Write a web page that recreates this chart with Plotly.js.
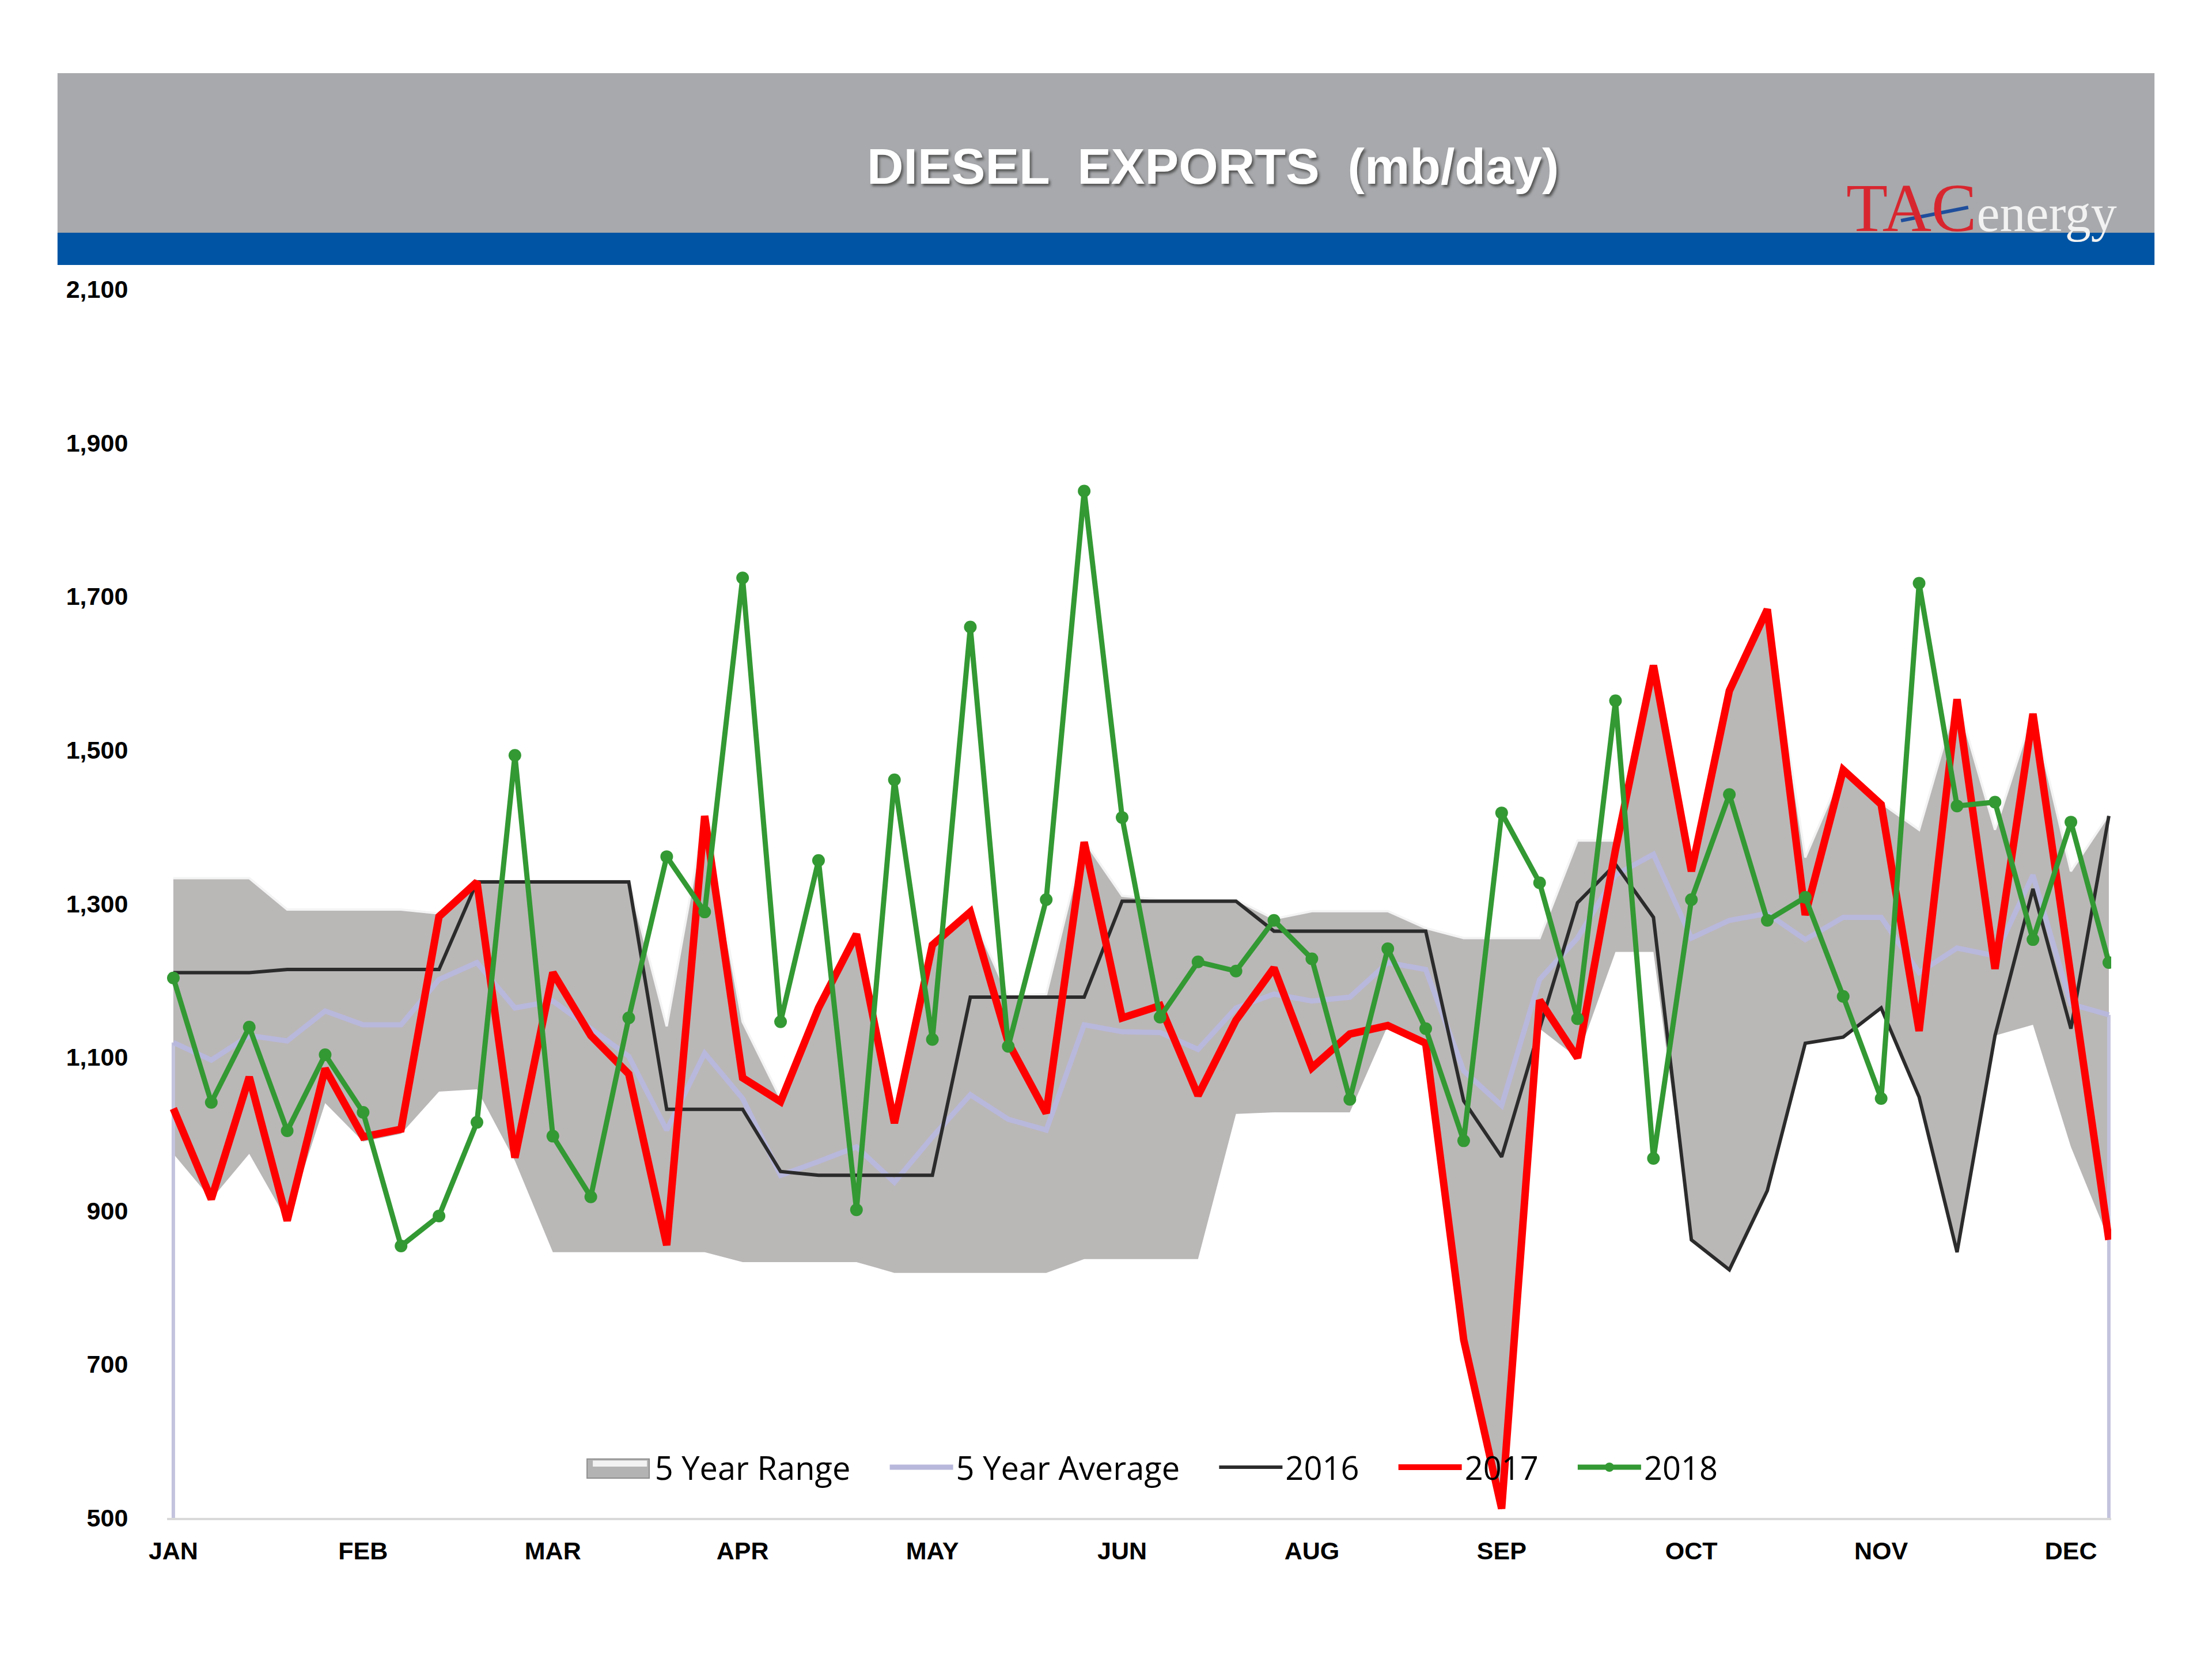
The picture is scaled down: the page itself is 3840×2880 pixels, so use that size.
<!DOCTYPE html>
<html>
<head>
<meta charset="utf-8">
<script src="https://cdn.plot.ly/plotly-3.0.1.min.js"></script>
<style>html,body{margin:0;padding:0;background:#fff;}#chart{width:3840px;height:2880px;}</style>
</head>
<body>
<div id="chart"></div>
<script>
// Week numbers (x categories)
const weeks = [1,2,3,4,5,6,7,8,9,10,11,12,13,14,15,16,17,18,19,20,21,22,23,24,25,26,
               27,28,29,30,31,32,33,34,35,36,37,38,39,40,41,42,43,44,45,46,47,48,49,50,51,52];
const monthTickWeeks = [1,6,11,16,21,26,31,36,41,46,51];
const monthLabels = ["JAN","FEB","MAR","APR","MAY","JUN","AUG","SEP","OCT","NOV","DEC"];
const yTickVals = [500,700,900,1100,1300,1500,1700,1900,2100];
const yTickLabels = ["500","700","900","1,100","1,300","1,500","1,700","1,900","2,100"];
const seriesNames = ["5 Year Range","5 Year Average","2016","2017","2018"];

const rangeLow = [974,915,974,887,1040,990,1000,1055,1058,965,
                  846,846,846,846,846,833,833,833,833,819,
                  819,819,819,819,837,837,837,837,1026,1028,
                  1028,1028,1141,1118,730,510,1137,1099,1237,1237,
                  862,823,926,1118,1126,1164,1048,846,1128,1142,
                  983,862];
const rangeHigh = [1333,1333,1333,1292,1292,1292,1292,1287,1330,1330,
                   1330,1330,1330,1140,1414,1146,1046,1166,1262,1020,
                   1248,1291,1180,1182,1382,1310,1305,1305,1305,1280,
                   1290,1290,1290,1268,1255,1255,1255,1382,1382,1612,
                   1346,1579,1685,1360,1475,1431,1396,1566,1396,1549,
                   1342,1416];
const avg5 = [1119,1096,1128,1121,1160,1142,1142,1201,1223,1164,
              1173,1137,1101,1005,1105,1046,946,964,983,937,
              996,1051,1019,1005,1142,1133,1132,1110,1164,1182,
              1173,1178,1223,1214,1082,1037,1201,1255,1337,1364,
              1255,1278,1287,1253,1282,1282,1210,1242,1232,1337,
              1169,1155];
const y2016 = [1210,1210,1210,1214,1214,1214,1214,1214,1328,1328,
               1328,1328,1328,1032,1032,1032,951,946,946,946,
               946,1178,1178,1178,1178,1303,1303,1303,1303,1264,
               1264,1264,1264,1264,1043,970,1137,1301,1351,1282,
               862,823,926,1118,1126,1164,1048,846,1128,1319,
               1137,1414];
const y2017 = [1033,915,1074,887,1085,996,1006,1283,1328,969,
               1210,1128,1078,855,1414,1073,1042,1164,1260,1014,
               1246,1289,1119,1027,1380,1151,1167,1050,1148,1216,
               1086,1130,1141,1118,732,512,1174,1099,1370,1610,
               1342,1577,1683,1285,1474,1429,1134,1566,1215,1547,
               1205,862];
const y2018 = [1203,1041,1139,1004,1103,1028,854,893,1015,1493,
               997,918,1151,1361,1289,1724,1146,1356,901,1461,
               1123,1660,1114,1305,1837,1412,1152,1224,1212,1278,
               1228,1045,1241,1137,991,1418,1327,1150,1564,968,
               1305,1442,1278,1308,1179,1046,1717,1427,1432,1253,
               1406,1223];

const yMin = yTickVals[0], yMax = yTickVals[yTickVals.length-1];
const last = weeks.length - 1;
const pad = '\u00a0\u00a0\u00a0\u00a0';

// polygon of the 5-year band built from the two bounds
const bandX = weeks.concat(weeks.slice().reverse());
const bandY = rangeHigh.concat(rangeLow.slice().reverse());

const traces = [
  {x: bandX, y: bandY, type:'scatter', mode:'lines', fill:'toself',
   fillcolor:'#bab7b7', line:{width:0, color:'#bab7b7'}, showlegend:false, hoverinfo:'skip'},
  {x: weeks, y: rangeHigh, type:'scatter', mode:'lines', line:{width:4, color:'#f4f4f4'},
   showlegend:false, hoverinfo:'skip'},
  // legend entry for the band (its box symbol is drawn as a layout shape)
  {x:[null], y:[null], type:'scatter', mode:'lines', name: seriesNames[0] + pad,
   line:{width:1, color:'rgba(0,0,0,0)'}},
  {x:[weeks[0], weeks[0], null, weeks[last], weeks[last]],
   y:[yMin, avg5[0], null, yMin, avg5[last]], type:'scatter', mode:'lines',
   line:{width:6, color:'#c3c3de'}, showlegend:false, hoverinfo:'skip'},
  {x: weeks, y: avg5, type:'scatter', mode:'lines', name: seriesNames[1] + pad,
   line:{width:9, color:'#b8b8dc'}},
  {x: weeks, y: y2016, type:'scatter', mode:'lines', name: seriesNames[2] + pad,
   line:{width:6, color:'#2b2b2b'}},
  {x: weeks, y: y2017, type:'scatter', mode:'lines', name: seriesNames[3] + pad,
   line:{width:13, color:'#ff0000'}},
  {x: weeks, y: y2018, type:'scatter', mode:'lines+markers', name: seriesNames[4],
   line:{width:9, color:'#339933'}, marker:{size:22, color:'#339933'}}
];

const layout = {
  width:3840, height:2880,
  margin:{l:0, r:0, t:0, b:0},
  paper_bgcolor:'#ffffff', plot_bgcolor:'rgba(0,0,0,0)',
  showlegend:true,
  font:{family:'Liberation Sans, Arial, sans-serif', color:'#000'},
  xaxis:{
    domain:[0.0755, 0.9544], range:[0.833, 52.06],
    tickvals: monthTickWeeks, ticktext: monthLabels,
    tickfont:{size:43, weight:700, color:'#000', family:'Liberation Sans, Arial, sans-serif'},
    ticks:'outside', ticklen:16, tickcolor:'rgba(0,0,0,0)',
    showgrid:false, zeroline:false, showline:true, linecolor:'#d9d9d9', linewidth:4
  },
  yaxis:{
    domain:[0.0851, 0.8257], range:[yMin, yMax],
    tickvals: yTickVals, ticktext: yTickLabels,
    tickfont:{size:43, weight:700, color:'#000', family:'Liberation Sans, Arial, sans-serif'},
    ticks:'outside', ticklen:58, tickcolor:'rgba(0,0,0,0)',
    showgrid:false, zeroline:false, showline:false
  },
  legend:{
    orientation:'h', x:0.5214, y:0.1156, xanchor:'center', yanchor:'middle',
    bgcolor:'rgba(0,0,0,0)', font:{family:'Open Sans, sans-serif', size:56, color:'#000'},
    itemwidth:110, traceorder:'normal'
  },
  shapes:[
    {type:'rect', xref:'paper', yref:'paper', x0:0.026, x1:0.974, y0:0.8597, y1:0.9559,
     fillcolor:'#a7a9ac', line:{width:0}, layer:'below'},
    {type:'rect', xref:'paper', yref:'paper', x0:0.026, x1:0.974, y0:0.8403, y1:0.8597,
     fillcolor:'#0054a4', line:{width:0}, layer:'below'},
    // legend box for "5 Year Range"
    {type:'rect', xref:'paper', yref:'paper', x0:0.2654, x1:0.2935, y0:0.1090, y1:0.1206,
     fillcolor:'#b3b3b3', line:{width:2, color:'#8e8e8e'}, layer:'above'},
    {type:'rect', xref:'paper', yref:'paper', x0:0.2680, x1:0.2925, y0:0.1160, y1:0.1196,
     fillcolor:'#f2f2f2', line:{width:0}, layer:'above'},
    // logo swoosh
    {type:'line', xref:'paper', yref:'paper', x0:0.8594, y0:0.8670, x1:0.8898, y1:0.8750,
     line:{color:'#1f4e9c', width:6}, layer:'above'}
  ],
  annotations:[
    {xref:'paper', yref:'paper', x:0.5484, y:0.8997, xanchor:'center', yanchor:'middle',
     text:'DIESEL  EXPORTS  (mb/day)', showarrow:false,
     font:{family:'Liberation Sans, Arial, sans-serif', size:88, weight:700, color:'#ffffff',
           shadow:'3px 4px 4px #555555'}},
    {xref:'paper', yref:'paper', x:0.8958, y:0.8745, xanchor:'center', yanchor:'middle',
     text:'<span style="color:#d8262f;font-size:118px">TAC</span><span style="color:#f2f2f2">energy</span>', showarrow:false,
     font:{family:'Liberation Serif, DejaVu Serif, serif', size:90, color:'#ffffff'}}
  ]
};

Plotly.newPlot('chart', traces, layout, {displayModeBar:false, staticPlot:true});
</script>
</body>
</html>
